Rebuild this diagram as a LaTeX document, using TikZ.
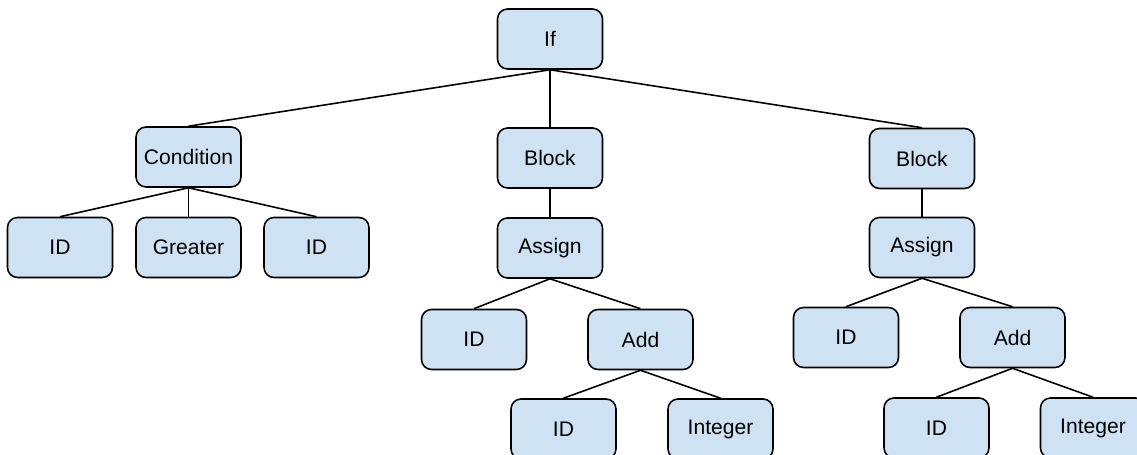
\documentclass[tikz,border=0pt]{standalone}
\usepackage{fontspec}
\setmainfont{Liberation Sans}
\usepackage{tikz}
\usetikzlibrary{positioning, calc}
\usepackage{xcolor}
\definecolor{boxblue}{RGB}{207,226,243}

\begin{document}
\begin{tikzpicture}[x=0.02cm, y=-0.02cm,
    treenode/.style={draw=black, fill=boxblue, rounded corners=0.2cm, line width=0.9pt,
      minimum width=2.1cm, minimum height=1.2cm, inner sep=0pt, font=\fontsize{12}{14}\selectfont},
    edge/.style={line width=0.9pt}]
      \useasboundingbox (0, 0) rectangle (1137, 455);

      % top of the tree
      \node[treenode] (if) at (550, 39) {If};
      \node[treenode] (cond) at (188.5, 157) {Condition};
      \node[treenode] (blk1) at (550, 158) {Block};
      \node[treenode] (blk2) at (922, 158.5) {Block};

      % condition
      \node[treenode] (id1) at (60, 247.5) {ID};
      \node[treenode] (gt) at (188.5, 247.5) {Greater};
      \node[treenode] (id2) at (316.5, 247.5) {ID};

      % first block
      \node[treenode] (asg1) at (550, 248) {Assign};
      \node[treenode] (id3) at (474, 339.5) {ID};
      \node[treenode] (add1) at (640.5, 339.5) {Add};
      \node[treenode] (id4) at (563.5, 429) {ID};
      \node[treenode] (int1) at (720.5, 429) {Integer};

      % second block
      \node[treenode] (asg2) at (922, 247.5) {Assign};
      \node[treenode] (id5) at (846, 337.5) {ID};
      \node[treenode] (add2) at (1012.5, 337.5) {Add};
      \node[treenode] (id6) at (936.5, 428) {ID};
      \node[treenode] (int2) at (1093, 428) {Integer};

      \foreach \p/\c in {if/cond, if/blk1, if/blk2, cond/id1, cond/gt, cond/id2,
          blk1/asg1, asg1/id3, asg1/add1, add1/id4, add1/int1,
          blk2/asg2, asg2/id5, asg2/add2, add2/id6, add2/int2} {
        \draw[edge] (\p.south) -- (\c.north);
      }
    \end{tikzpicture}
\end{document}
